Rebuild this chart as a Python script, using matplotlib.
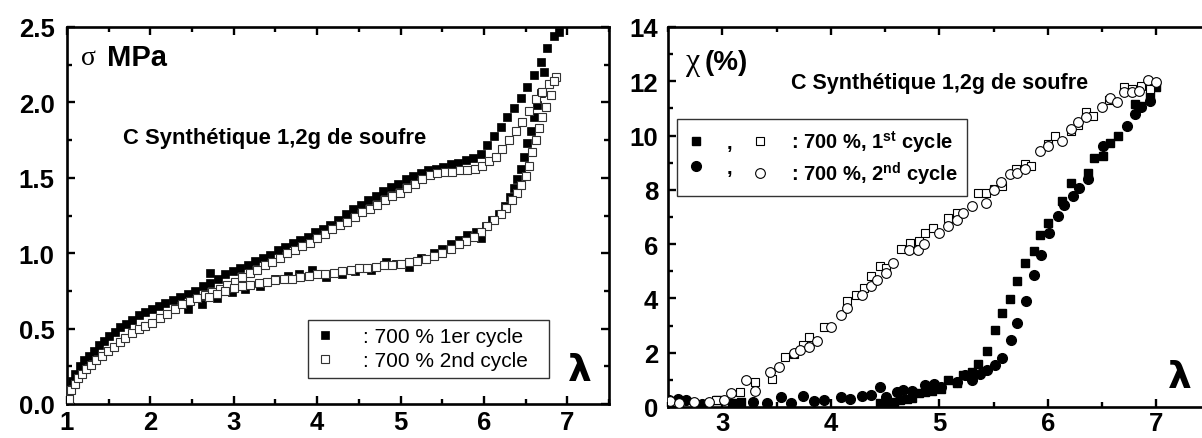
import matplotlib
matplotlib.use("Agg")
import matplotlib.pyplot as plt
from matplotlib.ticker import MultipleLocator, FormatStrFormatter

plt.rcParams['font.family'] = ['Liberation Sans', 'DejaVu Sans']
plt.rcParams['mathtext.fontset'] = 'custom'
plt.rcParams['mathtext.bf'] = 'Liberation Sans:bold'
plt.rcParams['mathtext.rm'] = 'Liberation Sans'

# ---------------- Left panel data (stress vs lambda) ----------------
c1_load_x = [1.02, 1.06, 1.10, 1.15, 1.20, 1.26, 1.32, 1.38, 1.44, 1.50, 1.57, 1.64, 1.71, 1.78,
             1.86, 1.94, 2.02, 2.10, 2.18, 2.27, 2.36, 2.45, 2.54, 2.63, 2.72, 2.72, 2.81, 2.90,
             2.99, 3.08, 3.17, 3.26, 3.35, 3.44, 3.53, 3.62, 3.71, 3.80, 3.89, 3.98, 4.07, 4.16,
             4.25, 4.34, 4.43, 4.52, 4.61, 4.70, 4.79, 4.88, 4.97, 5.06, 5.15, 5.24, 5.33, 5.42,
             5.51, 5.60, 5.69, 5.78, 5.87, 5.96, 6.04, 6.12, 6.20, 6.28, 6.36, 6.44, 6.52, 6.60,
             6.68, 6.76, 6.84, 6.90]
c1_load_y = [0.08, 0.15, 0.20, 0.25, 0.29, 0.32, 0.35, 0.39, 0.42, 0.45, 0.48, 0.51, 0.53, 0.56,
             0.59, 0.61, 0.63, 0.65, 0.67, 0.69, 0.71, 0.73, 0.75, 0.78, 0.80, 0.87, 0.83, 0.86,
             0.88, 0.90, 0.92, 0.95, 0.97, 0.99, 1.02, 1.04, 1.07, 1.09, 1.11, 1.14, 1.16, 1.19,
             1.22, 1.26, 1.29, 1.32, 1.35, 1.38, 1.41, 1.44, 1.46, 1.49, 1.51, 1.53, 1.55, 1.56,
             1.57, 1.59, 1.60, 1.62, 1.63, 1.66, 1.72, 1.78, 1.84, 1.90, 1.96, 2.03, 2.10, 2.18,
             2.27, 2.36, 2.44, 2.47]
c1_unload_x = [6.72, 6.68, 6.64, 6.60, 6.56, 6.52, 6.48, 6.44, 6.40, 6.36, 6.31, 6.25, 6.18, 6.10,
               6.02, 5.96, 5.90, 5.80, 5.70, 5.60, 5.50, 5.40, 5.25, 5.10, 4.95, 4.82, 4.65, 4.45,
               4.30, 4.11, 3.94, 3.78, 3.65, 3.50, 3.31, 3.14, 2.98, 2.80, 2.62, 2.45]
c1_unload_y = [2.20, 2.06, 1.98, 1.90, 1.81, 1.73, 1.64, 1.56, 1.49, 1.43, 1.37, 1.31, 1.26, 1.22,
               1.18, 1.10, 1.14, 1.12, 1.09, 1.06, 1.03, 1.00, 0.97, 0.91, 0.93, 0.94, 0.89, 0.88,
               0.86, 0.84, 0.89, 0.86, 0.85, 0.83, 0.78, 0.76, 0.74, 0.70, 0.66, 0.63]
c2_load_x = [1.02, 1.05, 1.09, 1.13, 1.18, 1.23, 1.29, 1.35, 1.42, 1.49, 1.56, 1.63, 1.70, 1.78,
             1.86, 1.94, 2.02, 2.11, 2.20, 2.29, 2.38, 2.47, 2.56, 2.65, 2.74, 2.83, 2.92, 3.01,
             3.10, 3.19, 3.28, 3.37, 3.46, 3.55, 3.64, 3.73, 3.82, 3.91, 4.00, 4.09, 4.18, 4.27,
             4.36, 4.45, 4.54, 4.63, 4.72, 4.81, 4.90, 4.99, 5.08, 5.17, 5.26, 5.35, 5.44, 5.53,
             5.62, 5.71, 5.80, 5.89, 5.98, 6.06, 6.14, 6.22, 6.30, 6.38, 6.46, 6.54, 6.62, 6.70,
             6.78, 6.86]
c2_load_y = [0.03, 0.09, 0.13, 0.17, 0.20, 0.23, 0.26, 0.29, 0.32, 0.35, 0.38, 0.41, 0.44, 0.47,
             0.50, 0.52, 0.54, 0.57, 0.60, 0.63, 0.66, 0.68, 0.70, 0.72, 0.74, 0.76, 0.79, 0.81,
             0.84, 0.87, 0.89, 0.92, 0.94, 0.97, 1.00, 1.02, 1.05, 1.07, 1.10, 1.13, 1.16, 1.19,
             1.21, 1.24, 1.27, 1.29, 1.32, 1.35, 1.38, 1.40, 1.43, 1.46, 1.49, 1.52, 1.53, 1.54,
             1.54, 1.55, 1.55, 1.56, 1.58, 1.61, 1.64, 1.69, 1.75, 1.81, 1.87, 1.94, 2.02, 2.07,
             2.12, 2.17]
c2_unload_x = [6.84, 6.80, 6.74, 6.70, 6.66, 6.62, 6.58, 6.54, 6.50, 6.45, 6.40, 6.34, 6.27, 6.20,
               6.12, 6.04, 5.96, 5.88, 5.79, 5.70, 5.60, 5.50, 5.40, 5.30, 5.20, 5.10, 5.00, 4.90,
               4.80, 4.70, 4.60, 4.50, 4.40, 4.30, 4.20, 4.10, 4.00, 3.90, 3.80, 3.70, 3.60, 3.50,
               3.40, 3.30, 3.20, 3.10, 3.00, 2.90, 2.80, 2.70]
c2_unload_y = [2.14, 2.05, 1.97, 1.90, 1.83, 1.75, 1.67, 1.58, 1.51, 1.45, 1.40, 1.35, 1.30, 1.26,
               1.22, 1.18, 1.14, 1.11, 1.08, 1.06, 1.03, 1.00, 0.98, 0.96, 0.95, 0.94, 0.93, 0.92,
               0.92, 0.91, 0.90, 0.90, 0.89, 0.88, 0.87, 0.86, 0.86, 0.85, 0.84, 0.83, 0.83, 0.82,
               0.81, 0.80, 0.79, 0.78, 0.77, 0.75, 0.73, 0.71]
left_labels = [": 700 % 1er cycle", ": 700 % 2nd cycle"]

# ---------------- Right panel data (chi vs lambda) ----------------
sq_open_x = [2.94, 3.16, 3.30, 3.46, 3.58, 3.66, 3.74, 3.80, 3.94, 4.15, 4.23, 4.31, 4.37, 4.45,
             4.51, 4.65, 4.73, 4.81, 4.87, 4.94, 5.08, 5.16, 5.36, 5.43, 5.50, 5.58, 5.71, 5.79,
             5.85, 6.00, 6.07, 6.21, 6.28, 6.35, 6.42, 6.56, 6.70, 6.78, 6.86, 6.94]
sq_open_y = [0.27, 0.56, 0.93, 1.05, 1.85, 1.97, 2.28, 2.59, 2.96, 3.89, 4.13, 4.38, 4.84, 5.18,
             5.12, 5.82, 6.04, 6.11, 6.41, 6.60, 6.97, 7.15, 7.87, 7.89, 8.02, 8.14, 8.76, 8.97,
             8.88, 9.68, 9.99, 10.18, 10.40, 10.88, 10.73, 11.30, 11.78, 11.72, 11.84, 11.72]
ci_open_x = [2.52, 2.60, 2.74, 2.88, 3.02, 3.08, 3.22, 3.30, 3.44, 3.52, 3.66, 3.72, 3.80, 3.87,
             4.00, 4.09, 4.15, 4.29, 4.37, 4.43, 4.51, 4.57, 4.72, 4.80, 4.86, 5.00, 5.08, 5.16,
             5.22, 5.30, 5.43, 5.50, 5.57, 5.65, 5.72, 5.79, 5.93, 6.00, 6.13, 6.21, 6.28, 6.35,
             6.50, 6.57, 6.64, 6.70, 6.78, 6.84, 6.92, 7.00]
ci_open_y = [0.22, 0.15, 0.18, 0.20, 0.25, 0.50, 1.00, 0.60, 1.30, 1.48, 2.00, 2.10, 2.20, 2.45,
             2.96, 3.40, 3.64, 4.13, 4.44, 4.69, 4.93, 5.30, 5.80, 5.80, 6.00, 6.41, 6.66, 6.90,
             7.15, 7.40, 7.52, 8.00, 8.30, 8.60, 8.63, 8.76, 9.44, 9.62, 9.80, 10.24, 10.50, 10.67,
             11.04, 11.40, 11.22, 11.60, 11.60, 11.66, 12.03, 11.96]
sq_fill_x = [2.95, 3.09, 3.17, 4.45, 4.52, 4.58, 4.64, 4.70, 4.75, 4.81, 4.87, 4.93, 5.02, 5.08,
             5.16, 5.22, 5.30, 5.36, 5.44, 5.51, 5.58, 5.65, 5.72, 5.79, 5.87, 5.93, 6.00, 6.13,
             6.21, 6.37, 6.43, 6.51, 6.57, 6.65, 6.80, 6.86, 6.94, 7.00]
sq_fill_y = [0.25, 0.15, 0.20, 0.15, 0.10, 0.20, 0.25, 0.30, 0.35, 0.50, 0.55, 0.60, 0.68, 0.99,
             0.90, 1.17, 1.30, 1.60, 2.07, 2.84, 3.45, 3.97, 4.63, 5.30, 5.74, 6.35, 6.78, 7.59,
             8.26, 8.63, 9.19, 9.25, 9.74, 9.99, 11.16, 11.10, 11.47, 11.78]
ci_fill_x = [2.51, 2.59, 2.67, 2.81, 3.14, 3.28, 3.41, 3.54, 3.63, 3.74, 3.85, 3.94, 4.09, 4.18,
             4.29, 4.37, 4.45, 4.51, 4.61, 4.67, 4.75, 4.87, 4.95, 5.02, 5.16, 5.24, 5.30, 5.38,
             5.44, 5.51, 5.58, 5.66, 5.72, 5.80, 5.87, 5.94, 6.01, 6.09, 6.15, 6.23, 6.29, 6.37,
             6.51, 6.73, 6.80, 6.86, 6.94]
ci_fill_y = [0.25, 0.31, 0.25, 0.12, 0.12, 0.18, 0.15, 0.37, 0.15, 0.40, 0.22, 0.27, 0.37, 0.31,
             0.40, 0.43, 0.74, 0.37, 0.55, 0.62, 0.59, 0.80, 0.86, 0.74, 0.92, 1.17, 0.99, 1.23,
             1.36, 1.54, 1.79, 2.47, 3.08, 3.91, 4.87, 5.61, 6.41, 7.03, 7.46, 7.77, 8.08, 8.39,
             9.62, 10.36, 10.79, 11.04, 11.29]
right_labels = [",", ",", ": 700 %, 1$^{\\mathbf{st}}$ cycle", ": 700 %, 2$^{\\mathbf{nd}}$ cycle"]
title_text = "C Synthétique 1,2g de soufre"

W, H = 1202, 439
fig = plt.figure(figsize=(W / 100, H / 100), dpi=100)
axL = fig.add_axes([67 / W, (H - 405) / H, 542 / W, 377 / H])
axR = fig.add_axes([668 / W, (H - 408) / H, 542.5 / W, 380 / H])

TICK_FS = 18.5


def style_axes(ax, xmaj, xmin, ymaj, ymin, fmt, padx, pady):
    for s in ax.spines.values():
        s.set_linewidth(1.9)
    ax.xaxis.set_major_locator(MultipleLocator(xmaj))
    ax.xaxis.set_minor_locator(MultipleLocator(xmin))
    ax.yaxis.set_major_locator(MultipleLocator(ymaj))
    ax.yaxis.set_minor_locator(MultipleLocator(ymin))
    ax.yaxis.set_major_formatter(FormatStrFormatter(fmt))
    ax.tick_params(which='both', direction='in', top=True, right=True, width=1.7)
    ax.tick_params(which='major', length=6)
    ax.tick_params(which='minor', length=3.5)
    ax.tick_params(axis='x', which='major', pad=padx)
    ax.tick_params(axis='y', which='major', pad=pady)
    for lab in ax.get_xticklabels() + ax.get_yticklabels():
        lab.set_fontsize(TICK_FS)
        lab.set_fontweight('bold')


# ---------------- Left panel ----------------
ms_sq = 6.2
axL.plot(c1_load_x + c1_unload_x, c1_load_y + c1_unload_y, ls='none', marker='s', ms=ms_sq,
         mfc='black', mec='black', mew=0.5, label=left_labels[0], zorder=2)
axL.plot(c2_load_x + c2_unload_x, c2_load_y + c2_unload_y, ls='none', marker='s', ms=ms_sq,
         mfc='white', mec='#333333', mew=0.8, label=left_labels[1], zorder=3)
axL.set_xlim(1, 7.5)
axL.set_ylim(0, 2.5)
style_axes(axL, 1, 0.5, 0.5, 0.25, '%.1f', 4.5, 9)

axL.text(0.026, 0.92, "σ", transform=axL.transAxes, fontsize=20, family='Liberation Serif',
         va='center', ha='left')
axL.text(0.074, 0.92, "MPa", transform=axL.transAxes, fontsize=21, fontweight='bold',
         va='center', ha='left')
axL.text(0.103, 0.708, title_text, transform=axL.transAxes, fontsize=15.8, fontweight='bold',
         va='center', ha='left')
axL.text(0.946, 0.09, "λ", transform=axL.transAxes, fontsize=27, fontweight='bold',
         va='center', ha='center', family='DejaVu Sans')

legL = axL.legend(loc='lower left', bbox_to_anchor=(0.444, 0.07, 0.446, 0.17), mode='expand',
                  frameon=True, fancybox=False, edgecolor='black', fontsize=15,
                  handlelength=1.0, handletextpad=1.3, borderpad=0.35, labelspacing=0.25,
                  borderaxespad=0)
legL.get_frame().set_linewidth(1.0)

# ---------------- Right panel ----------------
ms_c = 7
ms_s = 6
h1, = axR.plot(sq_fill_x, sq_fill_y, ls='none', marker='s', ms=ms_s, mfc='black', mec='black',
               zorder=2)
h2, = axR.plot(ci_fill_x, ci_fill_y, ls='none', marker='o', ms=ms_c, mfc='black', mec='black',
               zorder=2)
h3, = axR.plot(sq_open_x, sq_open_y, ls='none', marker='s', ms=ms_s, mfc='white', mec='black',
               mew=0.8, zorder=3)
h4, = axR.plot(ci_open_x, ci_open_y, ls='none', marker='o', ms=ms_c, mfc='white', mec='black',
               mew=0.8, zorder=3)
axR.set_xlim(2.5, 7.5)
axR.set_ylim(0, 14)
style_axes(axR, 1, 0.5, 2, 1, '%d', 3, 7)

axR.text(0.034, 0.908, "χ", transform=axR.transAxes, fontsize=23, family='Liberation Serif',
         va='center', ha='left')
axR.text(0.068, 0.908, "(%)", transform=axR.transAxes, fontsize=20, fontweight='bold',
         va='center', ha='left')
axR.text(0.5, 0.855, title_text, transform=axR.transAxes, fontsize=15.5, fontweight='bold',
         va='center', ha='center')
axR.text(0.944, 0.08, "λ", transform=axR.transAxes, fontsize=27, fontweight='bold',
         va='center', ha='center', family='DejaVu Sans')

legR = axR.legend([h1, h2, h3, h4], right_labels, ncol=2, loc='lower left',
                  bbox_to_anchor=(0.017, 0.555), frameon=True, fancybox=False,
                  edgecolor='black', prop=dict(size=14.5, weight='bold'),
                  handlelength=1.0, handletextpad=1.0, columnspacing=0.9,
                  borderpad=0.45, labelspacing=0.3, borderaxespad=0)
legR.get_frame().set_linewidth(1.0)

fig.savefig("out.png", dpi=100)
